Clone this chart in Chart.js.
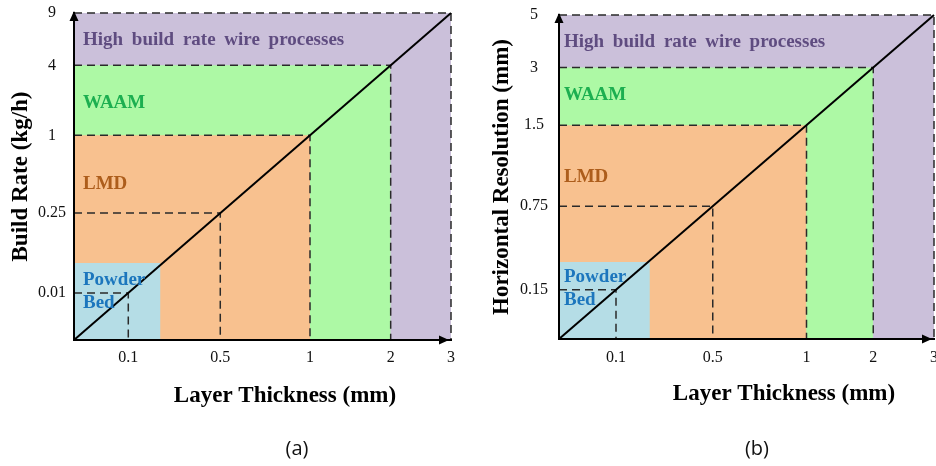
<!DOCTYPE html>
<html>
<head>
<meta charset="utf-8">
<script src="https://cdn.jsdelivr.net/npm/chart.js@4.4.1/dist/chart.umd.min.js"></script>
<style>
    body { margin: 0; background: #fff; width: 936px; height: 466px; position: relative; overflow: hidden; }
    canvas { position: absolute; top: 0; }
    #chartA { left: 0; }
    #chartB { left: 466px; }
    .caption { position: absolute; top: 434px; width: 60px; text-align: center; font: 20px "Open Sans", sans-serif; color: #111; }
</style>
</head>
<body>
<canvas id="chartA" width="466" height="466"></canvas>
<canvas id="chartB" width="470" height="466"></canvas>
<div class="caption" style="left:267px">(a)</div>
<div class="caption" style="left:727px">(b)</div>

<script>
// Tick values
const thicknessTicks = [0.1, 0.5, 1, 2, 3];        // layer thickness, mm
const buildRateTicks = [0.01, 0.25, 1, 4, 9];      // build rate, kg/h
const resolutionTicks = [0.15, 0.75, 1.5, 3, 5];   // horizontal resolution, mm

// Process windows (upper limits)
const processNames = ['Powder Bed', 'LMD', 'WAAM', 'High build rate wire processes'];
const processMaxThickness = [0.24, 1, 2, 3];
const processMaxRate = [0.1, 1, 4, 9];
const processMaxResolution = [0.35, 1.5, 3, 5];

// The axes are schematic (not to scale): where each tick sits along 0..1
const axisStopsA = [0.144, 0.388, 0.626, 0.840, 1];
const axisStopsB = [0.152, 0.410, 0.660, 0.838, 1];

const regionFill = ['#b5dde6', '#f8c18f', '#adf9a5', '#cbc0da'];
const regionText = ['#1c76bd', '#ad5d1b', '#1caf50', '#5f4c80'];
const serif = '"Liberation Serif", "Times New Roman", serif';

/**
 * Map a value onto the schematic axis (piecewise linear between ticks)
 */
function toAxis(v, ticks, stops) {
    const t = [0, ...ticks];
    const s = [0, ...stops];
    for (let i = 1; i < t.length; i++) {
        if (v <= t[i]) {
            return s[i - 1] + (v - t[i - 1]) / (t[i] - t[i - 1]) * (s[i] - s[i - 1]);
        }
    }
    return 1;
}

/**
 * Draws arrows, region names and the x axis title
 */
const decorPlugin = {
    id: 'decor',
    afterDatasetsDraw(chart, args, opts) {
        const { ctx, chartArea: a, scales } = chart;
        ctx.save();
        ctx.textBaseline = 'alphabetic';
        ctx.textAlign = 'left';
        ctx.font = `bold 19px ${serif}`;
        if ('wordSpacing' in ctx) ctx.wordSpacing = '4px';
        opts.labels.forEach(l => {
            ctx.fillStyle = l.color;
            ctx.fillText(l.text, a.left + l.dx, scales.y.getPixelForValue(l.y));
        });
        ctx.restore();
    },
    afterDraw(chart, args, opts) {
        const { ctx, chartArea: a } = chart;
        ctx.save();
        ctx.fillStyle = '#000';
        // y axis arrow
        ctx.beginPath();
        ctx.moveTo(a.left, a.top - 2);
        ctx.lineTo(a.left - 4.5, a.top + 8);
        ctx.lineTo(a.left + 4.5, a.top + 8);
        ctx.closePath();
        ctx.fill();
        // x axis arrow
        ctx.beginPath();
        ctx.moveTo(a.right - 2, a.bottom);
        ctx.lineTo(a.right - 12, a.bottom - 4.5);
        ctx.lineTo(a.right - 12, a.bottom + 4.5);
        ctx.closePath();
        ctx.fill();
        // x axis title
        ctx.font = `bold 23px ${serif}`;
        ctx.textAlign = 'center';
        ctx.textBaseline = 'alphabetic';
        ctx.fillText('Layer Thickness (mm)', opts.xTitleX, opts.xTitleY);
        ctx.restore();
    }
};

function buildPanel(canvasId, p) {
    const ax = v => toAxis(v, thicknessTicks, p.stops);
    const ay = v => toAxis(v, p.yTicks, p.stops);

    const regions = processNames.map((name, i) => ({
        label: name,
        data: [
            { x: 0, y: ay(p.processMaxY[i]) },
            { x: ax(processMaxThickness[i]), y: ay(p.processMaxY[i]) },
            { x: ax(processMaxThickness[i]), y: 0 }
        ],
        backgroundColor: regionFill[i],
        borderWidth: 0,
        fill: 'origin',
        pointRadius: 0,
        order: 10 + i
    }));

    const guides = thicknessTicks.map((t, i) => ({
        label: 'guide ' + t,
        data: [
            { x: 0, y: ay(p.yTicks[i]) },
            { x: ax(t), y: ay(p.yTicks[i]) },
            { x: ax(t), y: 0 }
        ],
        borderColor: '#2a2a2a',
        borderWidth: 1.5,
        borderDash: [8, 5],
        fill: false,
        pointRadius: 0,
        clip: 4,
        order: 2
    }));

    const diagonal = {
        label: 'trend',
        data: [
            { x: ax(0), y: ay(0) },
            { x: ax(thicknessTicks[thicknessTicks.length - 1]), y: ay(p.yTicks[p.yTicks.length - 1]) }
        ],
        borderColor: '#000',
        borderWidth: 2,
        fill: false,
        pointRadius: 0,
        clip: 4,
        order: 1
    };

    const labels = processNames.slice().reverse().flatMap((name, k) => {
        const i = processNames.length - 1 - k;
        const parts = name === 'Powder Bed' ? ['Powder', 'Bed'] : [name];
        return parts.map((text, j) => ({
            text, color: regionText[i], dx: p.labelDx, y: p.labelY[i][j]
        }));
    });

    return new Chart(document.getElementById(canvasId), {
        type: 'line',
        data: { datasets: [...regions, ...guides, diagonal] },
        options: {
            responsive: false,
            animation: false,
            elements: { line: { tension: 0 } },
            layout: { padding: p.padding },
            plugins: {
                legend: { display: false },
                tooltip: { enabled: false },
                decor: { labels, xTitleX: p.xTitleX, xTitleY: p.xTitleY }
            },
            scales: {
                x: {
                    type: 'linear',
                    min: 0,
                    max: 1,
                    grid: { display: false, drawTicks: false },
                    border: { display: true, color: '#000', width: 2, z: 1 },
                    ticks: {
                        autoSkip: false,
                        maxRotation: 0,
                        padding: p.xTickPad,
                        color: '#111',
                        font: { family: serif, size: 16 },
                        callback: (v, i) => String(thicknessTicks[i])
                    },
                    afterBuildTicks: s => { s.ticks = p.stops.map(v => ({ value: v })); },
                    afterFit: s => { s.height = p.xHeight; s.paddingLeft = 0; s.paddingRight = 0; }
                },
                y: {
                    type: 'linear',
                    min: 0,
                    max: 1,
                    grid: { display: false, drawTicks: false },
                    border: { display: true, color: '#000', width: 2, z: 1 },
                    title: {
                        display: true,
                        text: p.yTitle,
                        color: '#000',
                        padding: { top: p.yTitlePad, bottom: 0 },
                        font: { family: serif, size: 23, weight: 'bold' }
                    },
                    ticks: {
                        autoSkip: false,
                        crossAlign: 'center',
                        padding: p.yTickPad,
                        color: '#111',
                        font: { family: serif, size: 16 },
                        callback: (v, i) => String(p.yTicks[i])
                    },
                    afterBuildTicks: s => { s.ticks = p.stops.map(v => ({ value: v })); },
                    afterFit: s => { s.width = p.yWidth; s.paddingTop = 0; s.paddingBottom = 0; }
                }
            }
        },
        plugins: [decorPlugin]
    });
}

buildPanel('chartA', {
    yTicks: buildRateTicks,
    processMaxY: processMaxRate,
    stops: axisStopsA,
    yTitle: 'Build Rate (kg/h)',
    padding: { left: 0, top: 13, right: 15, bottom: 0 },
    yWidth: 74,
    xHeight: 126,
    yTitlePad: 7,
    yTickPad: 8,
    xTickPad: 8,
    xTitleX: 285,
    xTitleY: 402,
    labelDx: 9,
    labelY: [[0.168, 0.098], [0.462], [0.709], [0.902]]
});

buildPanel('chartB', {
    yTicks: resolutionTicks,
    processMaxY: processMaxResolution,
    stops: axisStopsB,
    yTitle: 'Horizontal Resolution (mm)',
    padding: { left: 0, top: 15, right: 2, bottom: 0 },
    yWidth: 93,
    xHeight: 127,
    yTitlePad: 22,
    yTickPad: 11,
    xTickPad: 9,
    xTitleX: 318,
    xTitleY: 400,
    labelDx: 5,
    labelY: [[0.176, 0.105], [0.485], [0.738], [0.901]]
});
</script>
</body>
</html>
